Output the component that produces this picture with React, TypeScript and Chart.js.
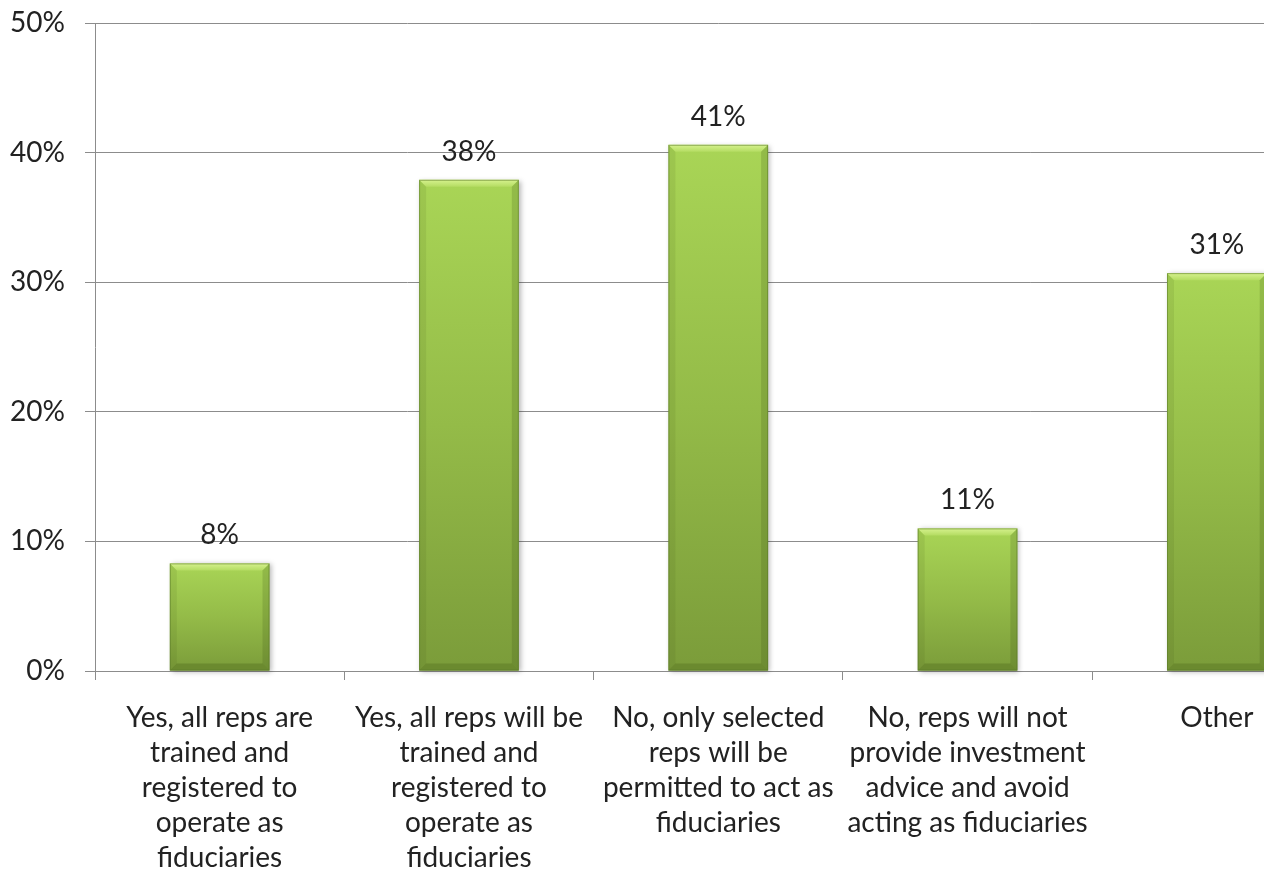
import React, { useEffect, useRef } from "react";
import { Chart, registerables } from "chart.js";

Chart.register(...registerables);

const categories: string[][] = [
  ["Yes, all reps are", "trained and", "registered to", "operate as", "fiduciaries"],
  ["Yes, all reps will be", "trained and", "registered to", "operate as", "fiduciaries"],
  ["No, only selected", "reps will be", "permitted to act as", "fiduciaries"],
  ["No, reps will not", "provide investment", "advice and avoid", "acting as fiduciaries"],
  ["Other"],
];
const values: number[] = [8.3, 37.9, 40.6, 11.0, 30.7];
const yTicks: number[] = [0, 10, 20, 30, 40, 50];

const FONT = "Lato";
const TEXT = "#222222";
const GRID = "#8c8c8c";

const bevelBars = {
  id: "bevelBars",
  afterDatasetsDraw(chart: any) {
    const ctx = chart.ctx as CanvasRenderingContext2D;
    const meta = chart.getDatasetMeta(0);
    meta.data.forEach((bar: any, i: number) => {
      const { x, y, base, width } = bar.getProps(["x", "y", "base", "width"], true);
      const L = x - width / 2;
      const R = x + width / 2;
      const T = y;
      const B = base;
      const d = Math.min(7, (B - T) / 3);
      ctx.save();
      ctx.shadowColor = "rgba(0,0,0,0.28)";
      ctx.shadowBlur = 5;
      ctx.shadowOffsetX = 2;
      ctx.shadowOffsetY = 1;
      const g = ctx.createLinearGradient(0, T, 0, B);
      g.addColorStop(0, "#a9d556");
      g.addColorStop(0.5, "#94bb48");
      g.addColorStop(1, "#7b9c3a");
      ctx.fillStyle = g;
      ctx.fillRect(L, T, R - L, B - T);
      ctx.shadowColor = "transparent";
      const gt = ctx.createLinearGradient(0, T, 0, T + d);
      gt.addColorStop(0, "#d6f28e");
      gt.addColorStop(1, "#b4dc62");
      ctx.fillStyle = gt;
      ctx.beginPath();
      ctx.moveTo(L, T);
      ctx.lineTo(R, T);
      ctx.lineTo(R - d, T + d);
      ctx.lineTo(L + d, T + d);
      ctx.closePath();
      ctx.fill();
      ctx.fillStyle = "#6b8a2f";
      ctx.beginPath();
      ctx.moveTo(L, B);
      ctx.lineTo(R, B);
      ctx.lineTo(R - d, B - d);
      ctx.lineTo(L + d, B - d);
      ctx.closePath();
      ctx.fill();
      ctx.fillStyle = "rgba(60,80,20,0.10)";
      ctx.beginPath();
      ctx.moveTo(L, T);
      ctx.lineTo(L + d, T + d);
      ctx.lineTo(L + d, B - d);
      ctx.lineTo(L, B);
      ctx.closePath();
      ctx.fill();
      ctx.fillStyle = "rgba(50,70,15,0.18)";
      ctx.beginPath();
      ctx.moveTo(R, T);
      ctx.lineTo(R - d, T + d);
      ctx.lineTo(R - d, B - d);
      ctx.lineTo(R, B);
      ctx.closePath();
      ctx.fill();
      ctx.strokeStyle = "rgba(90,120,40,0.55)";
      ctx.lineWidth = 1;
      ctx.strokeRect(L + 0.5, T + 0.5, R - L - 1, B - T - 1);
      ctx.restore();

      ctx.save();
      ctx.font = `28px ${FONT}`;
      ctx.fillStyle = TEXT;
      ctx.textAlign = "center";
      ctx.textBaseline = "alphabetic";
      ctx.fillText(`${Math.round(values[i])}%`, x, T - 19);
      ctx.restore();
    });
  },
};

export default function App() {
  const ref = useRef<HTMLCanvasElement | null>(null);
  useEffect(() => {
    if (!ref.current) return;
    const chart = new Chart(ref.current, {
      type: "bar",
      data: {
        labels: categories,
        datasets: [
          {
            data: values,
            backgroundColor: "rgba(0,0,0,0)",
            borderWidth: 0,
            barPercentage: 0.4,
            categoryPercentage: 1,
          },
        ],
      },
      options: {
        responsive: false,
        animation: false,
        devicePixelRatio: 1,
        layout: { padding: { left: 0, top: 23, right: 18.5, bottom: 0 } },
        plugins: {
          legend: { display: false },
          tooltip: { enabled: false },
        },
        scales: {
          x: {
            offset: true,
            grid: {
              display: true,
              offset: true,
              drawOnChartArea: false,
              drawTicks: true,
              tickLength: 9,
              color: GRID,
            },
            border: { display: true, color: GRID },
            ticks: {
              autoSkip: false,
              maxRotation: 0,
              minRotation: 0,
              padding: 20,
              color: TEXT,
              font: { family: FONT, size: 28, lineHeight: 35 / 28 },
            },
            afterFit: (scale: any) => {
              scale.height = 201;
              scale.paddingLeft = 0;
              scale.paddingRight = 0;
            },
          },
          y: {
            min: 0,
            max: 50,
            afterBuildTicks: (scale: any) => {
              scale.ticks = yTicks.map((v) => ({ value: v }));
            },
            grid: {
              color: GRID,
              lineWidth: 1,
              drawTicks: true,
              tickLength: 10,
            },
            border: { display: true, color: GRID },
            ticks: {
              padding: 20,
              color: TEXT,
              font: { family: FONT, size: 28 },
              callback: (v: any) => `${v}%`,
            },
            afterFit: (scale: any) => {
              scale.width = 95;
              scale.paddingTop = 0;
              scale.paddingBottom = 0;
            },
          },
        },
      },
      plugins: [bevelBars],
    });
    return () => chart.destroy();
  }, []);
  return (
    <div
      style={{
        position: "fixed",
        left: 0,
        top: 0,
        width: 1264,
        height: 872,
        overflow: "hidden",
        background: "#ffffff",
      }}
    >
      <canvas ref={ref} width={1360} height={872} style={{ width: 1360, height: 872, display: "block" }} />
    </div>
  );
}
